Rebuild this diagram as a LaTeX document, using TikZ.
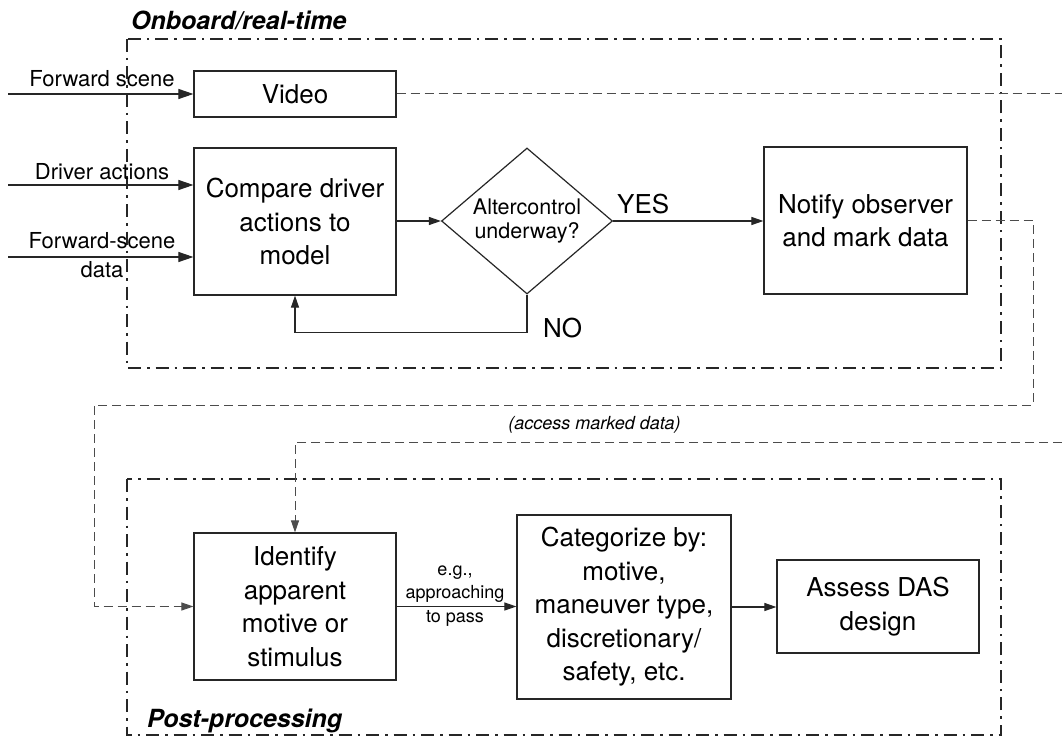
\documentclass[tikz,border=0pt]{standalone}
\usepackage{fontspec}
\setmainfont{TeX Gyre Heros}
\usetikzlibrary{shapes.geometric,arrows.meta}
\begin{document}
\begin{tikzpicture}[x=1pt,y=-1pt,
  box/.style={draw=black!85, line width=1.2pt, inner sep=0pt, align=center,
    font=\fontsize{26}{33.5}\selectfont},
  decision/.style={diamond, draw=black!85, line width=1.2pt, inner sep=0pt,
    aspect=1.17, minimum width=171pt, minimum height=146pt, align=center,
    font=\fontsize{21.5}{24}\selectfont},
  tip/.style={-{Triangle[length=12pt,width=8pt]}},
  flow/.style={line width=1.1pt, draw=black!85, tip},
  inflow/.style={line width=1.1pt, draw=black!85, -{Triangle[length=15pt,width=10pt]}},
  dataline/.style={line width=1pt, draw=black!70, dash pattern=on 9pt off 5pt},
  frame/.style={line width=1.8pt, draw=black!85, dash pattern=on 13pt off 6pt on 2.5pt off 6pt},
  side/.style={font=\fontsize{22}{29}\selectfont, align=center, inner sep=0pt},
  answer/.style={font=\fontsize{26}{30}\selectfont, inner sep=0pt},
  heading/.style={font=\fontsize{25}{30}\selectfont\bfseries\itshape, inner sep=0pt},
  note/.style={font=\fontsize{18}{23.5}\selectfont, align=center, inner sep=0pt}
]
% canvas
\fill[white] (0,0) rectangle (1062,738);
\useasboundingbox (0,0) rectangle (1062,738);

% group frames and their headings
\draw[frame] (127,39) rectangle (1001,368);
\draw[frame] (127,479) rectangle (1001,735);
\node[heading, anchor=base west] (onboard) at (131,30) {Onboard/real-time};
\node[heading, anchor=base west] (post) at (147,727) {Post-processing};

% onboard stage
\node[box, minimum width=202pt, minimum height=46pt] (video) at (295,94) {Video};
\node[box, minimum width=202pt, minimum height=147pt] (compare) at (295,221.5)
  {Compare driver\\actions to\\model};
\node[decision] (altercontrol) at (527,221) {Altercontrol\\underway?};
\node[box, minimum width=203pt, minimum height=147pt] (notify) at (865.5,220.5)
  {Notify observer\\and mark data};

% inputs (multi-line labels are placed by the baseline of their last line)
\coordinate (inscene) at (8,94);
\coordinate (inactions) at (8,185);
\coordinate (indata) at (8,257);
\node[side, anchor=base] (lblscene) at (102,87) {Forward scene};
\node[side, anchor=base] (lblactions) at (102,179) {Driver actions};
\node[side, anchor=base] (lbldata) at (102,277) {Forward-scene\\data};
\draw[inflow] (inscene) -- (video.west);
\draw[inflow] (inactions) -- (compare.west |- inactions);
\draw[inflow] (indata) -- (compare.west |- indata);

% decision loop
\draw[flow] (compare.east |- altercontrol.west) -- (altercontrol.west);
\draw[flow] (altercontrol.east) -- (notify.west |- altercontrol.east);
\draw[flow] (altercontrol.south) -- ++(0,38) -| (compare.south);
\node[answer, anchor=base west] (yes) at (617,213) {YES};
\node[answer, anchor=base west] (no) at (543,337) {NO};

% post-processing stage
\node[box, minimum width=202pt, minimum height=147pt] (identify) at (295,606.5)
  {Identify\\apparent\\motive or\\stimulus};
\node[box, minimum width=214pt, minimum height=184pt] (categorize) at (624,607)
  {Categorize by:\\motive,\\maneuver type,\\discretionary/\\safety, etc.};
\node[box, minimum width=202pt, minimum height=93pt] (assess) at (878,606.5)
  {Assess DAS\\design};
\draw[flow] (identify.east) -- (categorize.west |- identify.east);
\draw[flow] (categorize.east) -- (assess.west |- categorize.east);
\node[note, anchor=base] (example) at (455,622) {e.g.,\\approaching\\to pass};

% recorded data paths
\coordinate (videoout) at (1062,94);
\draw[dataline] (video.east) -- (videoout);
\coordinate (markturn) at (1033,405);
\coordinate (leftturn) at (94,405);
\draw[dataline, tip] (notify.east) -| (markturn) -- (leftturn) |- (identify.west);
\coordinate (accessin) at (1062,442);
\draw[dataline, tip] (accessin) -| (identify.north);
\node[note, font=\fontsize{18}{22}\selectfont\itshape, anchor=base] (accesslbl)
  at (594.5,429) {(access marked data)};
\end{tikzpicture}
\end{document}
